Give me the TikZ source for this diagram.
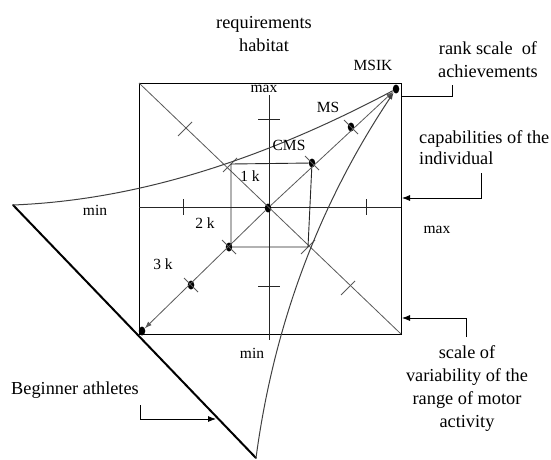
\documentclass[tikz,border=0pt]{standalone}
\usepackage{fontspec}
\setmainfont{Liberation Serif}
\usetikzlibrary{arrows.meta,shapes.geometric}

\tikzset{
  rankdot/.style={ellipse, fill=black, minimum width=6.5pt, minimum height=9pt, inner sep=0pt},
  bigtext/.style={font=\fontsize{18.3}{23}\selectfont, inner sep=0pt},
  smalltext/.style={font=\fontsize{15.5}{18}\selectfont, inner sep=0pt},
  frame/.style={line width=1pt},
  axisline/.style={black!85, line width=0.9pt},
  guide/.style={black!65, line width=0.8pt},
  curveline/.style={black!75, line width=1pt},
  pointer/.style={-{Latex[length=8pt,width=6pt]}, line width=0.8pt},
  smalltip/.style={-{Latex[length=7pt,width=5pt]}}
}

\begin{document}
\begin{tikzpicture}[x=1pt, y=-1pt]
    \useasboundingbox (0,0) rectangle (551,460);

    % Frame
    \coordinate (tl) at (139,83);
    \coordinate (tr) at (401,83);
    \coordinate (bl) at (139,334);
    \coordinate (br) at (401,334);
    \draw[frame] (tl) rectangle (br);

    % Axes
    \coordinate (axleft) at (139,207);
    \coordinate (axright) at (401,207);
    \coordinate (axtop) at (269,95);
    \coordinate (axbot) at (269,340);
    \draw[axisline] (axleft) -- (axright);
    \draw[axisline] (axtop) -- (axbot);
    \draw[axisline] (183,199) -- (183,215) (366,199) -- (366,215);
    \draw[axisline] (258,119) -- (280,119) (258,286) -- (280,286);

    % Dots on the rank diagonal
    \node[rankdot] (dotbl) at (142,331) {};
    \node[rankdot] (dot3) at (191,285) {};
    \node[rankdot] (dot2) at (229,247) {};
    \node[rankdot] (center) at (268,208) {};
    \node[rankdot] (cms) at (312,163) {};
    \node[rankdot] (ms) at (351,127) {};
    \node[rankdot] (msik) at (396,89) {};

    % Diagonals
    \draw[guide] (tl) -- (br);
    \draw[guide, smalltip] (center) -- (dotbl);
    \draw[guide, smalltip] (center) -- (msik);
    \draw[guide] (dot3) +(-7,-7) -- +(7,7) (dot2) +(-7,-7) -- +(7,7)
                 (cms) +(-7,-7) -- +(7,7) (ms) +(-7,-7) -- +(7,7);
    \draw[guide] (185,129) +(-7,7) -- +(7,-7) (230,165) +(-7,7) -- +(7,-7)
                 (308,247) +(-7,7) -- +(7,-7) (348,288) +(-7,7) -- +(7,-7);

    % Inner square
    \coordinate (sqtl) at (231,164);
    \coordinate (sqbl) at (231,247);
    \coordinate (sqbr) at (308,247);
    \draw[axisline] (sqbl) -- (sqtl) -- (cms) -- (sqbr) -- (dot2);

    % Curves
    \coordinate (lefttip) at (13,205);
    \coordinate (bottomtip) at (256,458);
    \draw[line width=2pt, line cap=round] (lefttip) -- (bottomtip);
    \draw[curveline] (lefttip) .. controls (140,200) and (266,158) .. (msik);
    \draw[curveline, smalltip] (bottomtip) .. controls (272,338) and (312,215) .. (msik);

    % Labels
    \node[bigtext, align=center] (habitat) at (264,34) {requirements\\habitat};
    \node[smalltext] (msiklabel) at (373,65) {MSIK};
    \node[smalltext] (maxtop) at (264,89) {max};
    \node[smalltext] (mslabel) at (328,107) {MS};
    \node[smalltext] (cmslabel) at (289,145) {CMS};
    \node[smalltext] (k1) at (250,176) {1 k};
    \node[smalltext] (k2) at (205,223) {2 k};
    \node[smalltext] (k3) at (163,264) {3 k};
    \node[smalltext] (minleft) at (95,210) {min};
    \node[smalltext] (maxright) at (437,230) {max};
    \node[smalltext] (minbot) at (252,353) {min};

    % Explanations
    \node[bigtext, align=center] (rank) at (488,60) {rank scale\ \ of\\achievements};
    \node[bigtext, align=left, anchor=west,
          font=\fontsize{18.3}{21}\selectfont] (capab) at (419,148) {capabilities of the\\individual};
    \node[bigtext, align=center] (scale) at (467,389) {scale of\\variability of the\\range of motor\\activity};
    \node[bigtext] (beginner) at (75,390) {Beginner athletes};

    % Pointers
    \coordinate (rankfoot) at (452,85);
    \coordinate (rankend) at (401,96);
    \coordinate (capabfoot) at (481,173);
    \coordinate (capabend) at (402,198);
    \coordinate (scalehead) at (466,337);
    \coordinate (scaleend) at (402,318);
    \coordinate (beginfoot) at (140,405);
    \coordinate (beginend) at (216,419);
    \draw[line width=0.8pt] (rankfoot) |- (rankend);
    \draw[pointer] (capabfoot) |- (capabend);
    \draw[pointer] (scalehead) |- (scaleend);
    \draw[pointer] (beginfoot) |- (beginend);
\end{tikzpicture}
\end{document}
